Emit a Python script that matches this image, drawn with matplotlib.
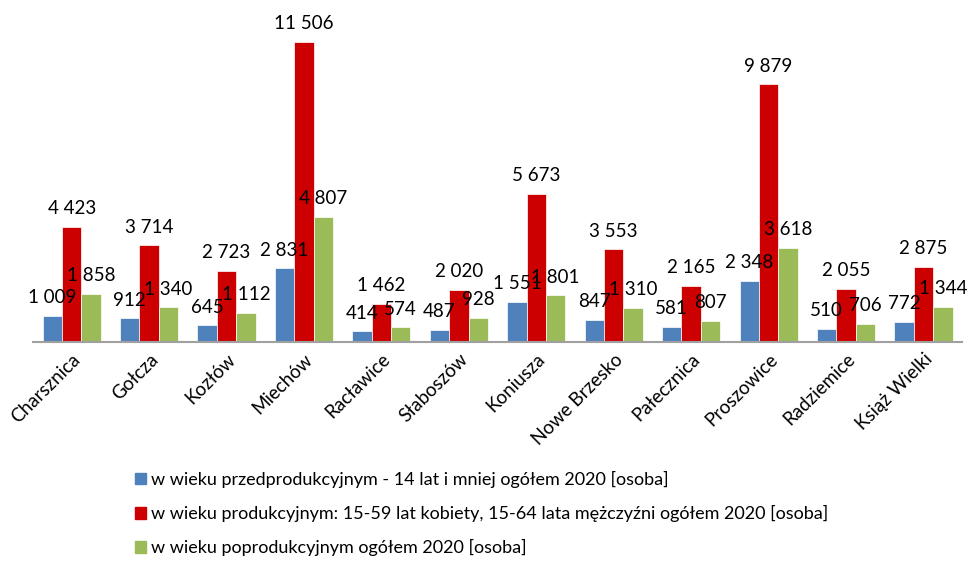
import numpy as np
import matplotlib.pyplot as plt
from matplotlib.patches import Patch

plt.rcParams['font.family'] = ['Lato', 'DejaVu Sans']

gminy = ['Charsznica', 'Gołcza', 'Kozłów', 'Miechów', 'Racławice', 'Słaboszów',
         'Koniusza', 'Nowe Brzesko', 'Pałecznica', 'Proszowice', 'Radziemice', 'Książ Wielki']
przedprod = [1009, 912, 645, 2831, 414, 487, 1551, 847, 581, 2348, 510, 772]
prod = [4423, 3714, 2723, 11506, 1462, 2020, 5673, 3553, 2165, 9879, 2055, 2875]
poprod = [1858, 1340, 1112, 4807, 574, 928, 1801, 1310, 807, 3618, 706, 1344]

labels = ['w wieku przedprodukcyjnym - 14 lat i mniej ogółem 2020 [osoba]',
          'w wieku produkcyjnym: 15-59 lat kobiety, 15-64 lata mężczyźni ogółem 2020 [osoba]',
          'w wieku poprodukcyjnym ogółem 2020 [osoba]']
colors = ['#4F81BD', '#CC0000', '#9BBB59']

fig = plt.figure(figsize=(9.68, 5.62), dpi=100)
ax = fig.add_axes([0.034, 0.391, 0.96, 0.604])

x = np.arange(len(gminy))
w = 0.25
for i, vals in enumerate([przedprod, prod, poprod]):
    pos = x + (i - 1) * w
    ax.bar(pos, vals, w, color=colors[i], edgecolor='white', linewidth=0.5)
    for px, v in zip(pos, vals):
        ax.annotate(f'{v:,}'.replace(',', ' '), (px, v), xytext=(0, 7),
                    textcoords='offset points', ha='center', va='bottom',
                    fontsize=13.5, color='black')

ax.set_xlim(-0.5, len(gminy) - 0.5)
ax.set_ylim(0, 13000)
ax.set_yticks([])
for s in ['top', 'right', 'left']:
    ax.spines[s].set_visible(False)
ax.spines['bottom'].set_color('#A0A0A0')
ax.spines['bottom'].set_linewidth(1.5)
ax.set_xticks(x)
ax.set_xticklabels(gminy, rotation=45, ha='right', rotation_mode='anchor', fontsize=13.5)
ax.tick_params(axis='x', length=0, pad=6)

handles = [Patch(color=c) for c in colors]
fig.legend(handles, labels, loc='upper left', bbox_to_anchor=(0.13, 0.178),
           frameon=False, fontsize=13, handlelength=0.6, handleheight=0.6,
           handletextpad=0.3, labelspacing=0.95, borderpad=0)

plt.savefig('out.png')
